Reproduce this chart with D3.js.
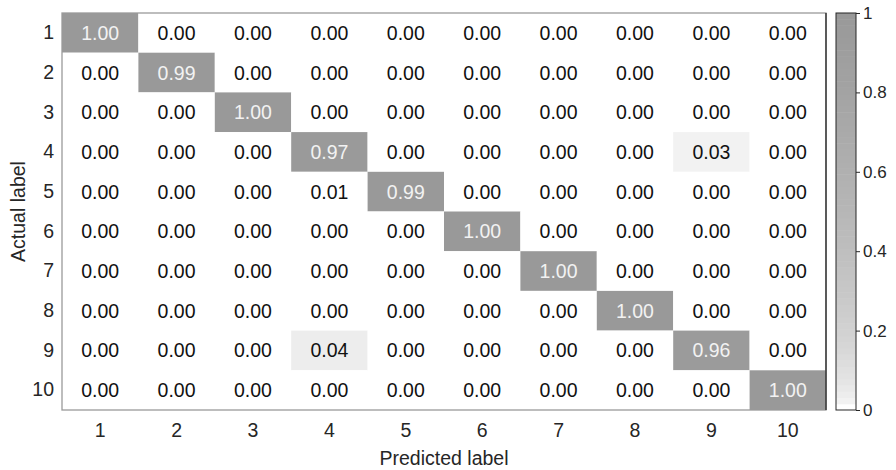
<!DOCTYPE html>
<html>
<head>
<meta charset="utf-8">
<script src="https://cdn.jsdelivr.net/npm/d3@7"></script>
<style>
  body { margin: 0; background: #fff; }
  text { font-family: "Liberation Sans", Arial, sans-serif; }
</style>
</head>
<body>
<div id="chart"></div>
<script>
// class labels (rows = actual, columns = predicted)
const classes = ['1', '2', '3', '4', '5', '6', '7', '8', '9', '10'];

const row1  = [1.00, 0.00, 0.00, 0.00, 0.00, 0.00, 0.00, 0.00, 0.00, 0.00];
const row2  = [0.00, 0.99, 0.00, 0.00, 0.00, 0.00, 0.00, 0.00, 0.00, 0.00];
const row3  = [0.00, 0.00, 1.00, 0.00, 0.00, 0.00, 0.00, 0.00, 0.00, 0.00];
const row4  = [0.00, 0.00, 0.00, 0.97, 0.00, 0.00, 0.00, 0.00, 0.03, 0.00];
const row5  = [0.00, 0.00, 0.00, 0.01, 0.99, 0.00, 0.00, 0.00, 0.00, 0.00];
const row6  = [0.00, 0.00, 0.00, 0.00, 0.00, 1.00, 0.00, 0.00, 0.00, 0.00];
const row7  = [0.00, 0.00, 0.00, 0.00, 0.00, 0.00, 1.00, 0.00, 0.00, 0.00];
const row8  = [0.00, 0.00, 0.00, 0.00, 0.00, 0.00, 0.00, 1.00, 0.00, 0.00];
const row9  = [0.00, 0.00, 0.00, 0.04, 0.00, 0.00, 0.00, 0.00, 0.96, 0.00];
const row10 = [0.00, 0.00, 0.00, 0.00, 0.00, 0.00, 0.00, 0.00, 0.00, 1.00];
const values = [row1, row2, row3, row4, row5, row6, row7, row8, row9, row10];

const cbarTicks = [0, 0.2, 0.4, 0.6, 0.8, 1];

let width = 896, height = 470;
let plot = {left: 62, right: 826, top: 13, bottom: 410};
let cbar = {left: 836, right: 856};

// 64-step gray colormap, white -> gray, brightening fast near 0
const nLevels = 64;
const interp = d3.interpolateRgb('#ffffff', '#999999');
const level = v => Math.min(nLevels - 1, Math.floor(v * nLevels));
const colorOf = v => interp(Math.pow(level(v) / (nLevels - 1), 0.5));

let x = d3.scaleBand().domain(classes).range([plot.left, plot.right]);
let y = d3.scaleBand().domain(classes).range([plot.top, plot.bottom]);

let svg = d3.select('#chart').append('svg')
    .attr('width', width)
    .attr('height', height);

let cells = [];
values.forEach((r, i) => r.forEach((v, j) => cells.push({row: classes[i], col: classes[j], v: v})));

let g = svg.append('g').attr('class', 'cells');
g.selectAll('rect').data(cells).enter().append('rect')
    .attr('x', d => x(d.col))
    .attr('y', d => y(d.row))
    .attr('width', x.bandwidth())
    .attr('height', y.bandwidth())
    .attr('fill', d => colorOf(d.v));

g.selectAll('text').data(cells).enter().append('text')
    .attr('x', d => x(d.col) + x.bandwidth() / 2)
    .attr('y', d => y(d.row) + y.bandwidth() / 2)
    .attr('dy', '0.36em')
    .attr('text-anchor', 'middle')
    .style('font-size', '19.5px')
    .attr('fill', d => d.v > 0.5 ? '#f2f2f2' : '#111')
    .text(d => d.v.toFixed(2));

// box
svg.append('rect')
    .attr('x', plot.left).attr('y', plot.top)
    .attr('width', plot.right - plot.left).attr('height', plot.bottom - plot.top)
    .attr('fill', 'none').attr('stroke', '#9a9a9a').attr('stroke-width', 1.3);
svg.append('line')
    .attr('x1', plot.right).attr('x2', plot.right)
    .attr('y1', plot.top).attr('y2', plot.bottom)
    .attr('stroke', '#262626').attr('stroke-width', 1.3);

// axes
let xAxis = svg.append('g')
    .attr('transform', `translate(0,${plot.bottom})`)
    .call(d3.axisBottom(x).tickSize(0).tickPadding(13));
let yAxis = svg.append('g')
    .attr('transform', `translate(${plot.left},0)`)
    .call(d3.axisLeft(y).tickSize(0).tickPadding(8));
[xAxis, yAxis].forEach(a => {
    a.select('.domain').remove();
    a.selectAll('text')
        .style('font-size', '19.5px')
        .style('font-family', '"Liberation Sans", Arial, sans-serif')
        .attr('fill', '#262626');
});

svg.append('text')
    .attr('x', (plot.left + plot.right) / 2)
    .attr('y', 465)
    .attr('text-anchor', 'middle')
    .style('font-size', '19.5px')
    .attr('fill', '#262626')
    .text('Predicted label');

svg.append('text')
    .attr('transform', `translate(25,${(plot.top + plot.bottom) / 2}) rotate(-90)`)
    .attr('text-anchor', 'middle')
    .style('font-size', '19.5px')
    .attr('fill', '#262626')
    .text('Actual label');

// colorbar
let cy = d3.scaleLinear().domain([0, 1]).range([plot.bottom, plot.top]);
let bands = d3.range(nLevels);
svg.append('g').selectAll('rect').data(bands).enter().append('rect')
    .attr('x', cbar.left)
    .attr('y', d => cy((d + 1) / nLevels))
    .attr('width', cbar.right - cbar.left)
    .attr('height', d => cy(d / nLevels) - cy((d + 1) / nLevels) + 0.5)
    .attr('fill', d => interp(Math.pow(d / (nLevels - 1), 0.5)));

svg.append('rect')
    .attr('x', cbar.left).attr('y', plot.top)
    .attr('width', cbar.right - cbar.left).attr('height', plot.bottom - plot.top)
    .attr('fill', 'none').attr('stroke', '#262626').attr('stroke-width', 1);

let cAxis = svg.append('g')
    .attr('transform', `translate(${cbar.right},0)`)
    .call(d3.axisRight(cy).tickValues(cbarTicks).tickFormat(d3.format('')).tickSize(4).tickPadding(3));
cAxis.select('.domain').remove();
cAxis.selectAll('line').attr('stroke', '#262626');
cAxis.selectAll('text')
    .style('font-size', '17px')
    .style('font-family', '"Liberation Sans", Arial, sans-serif')
    .attr('fill', '#262626');
</script>
</body>
</html>
